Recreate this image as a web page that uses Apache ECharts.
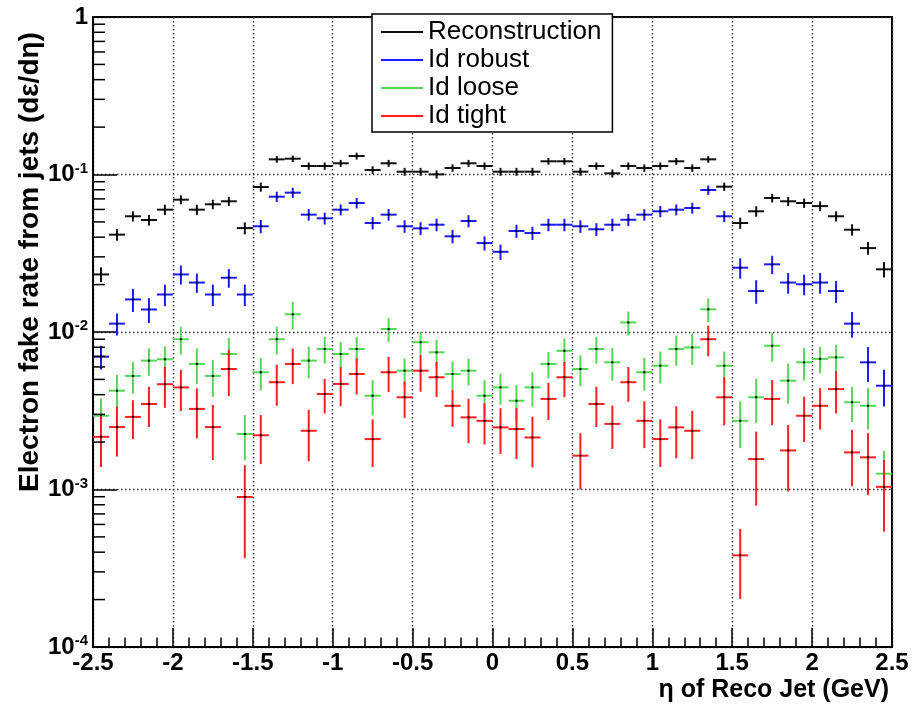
<!DOCTYPE html>
<html><head><meta charset="utf-8">
<script src="https://cdn.jsdelivr.net/npm/echarts@6/dist/echarts.min.js"></script>
<style>html,body{margin:0;padding:0;background:#fff}#c{width:922px;height:715px}</style>
</head><body><div id="c"></div>
<script>
// ---- data ----
const etaCenters = [-2.45,-2.35,-2.25,-2.15,-2.05,-1.95,-1.85,-1.75,-1.65,-1.55,
  -1.45,-1.35,-1.25,-1.15,-1.05,-0.95,-0.85,-0.75,-0.65,-0.55,
  -0.45,-0.35,-0.25,-0.15,-0.05,0.05,0.15,0.25,0.35,0.45,
  0.55,0.65,0.75,0.85,0.95,1.05,1.15,1.25,1.35,1.45,
  1.55,1.65,1.75,1.85,1.95,2.05,2.15,2.25,2.35,2.45];
const binWidth = 0.1;
const seriesNames = ['Reconstruction','Id robust','Id loose','Id tight'];

const reco = [0.0232,0.0415,0.0543,0.0514,0.0598,0.0692,0.0598,0.0647,0.0676,0.0457,
  0.0833,0.1248,0.126,0.1132,0.1132,0.1178,0.131,0.1068,0.1178,0.1042,
  0.1042,0.1002,0.110,0.1178,0.1132,0.1042,0.1042,0.1042,0.1213,0.1213,
  0.1042,0.1132,0.1017,0.1132,0.110,0.1132,0.1213,0.110,0.1248,0.0837,
  0.0492,0.0584,0.0709,0.0676,0.0659,0.0630,0.0543,0.0446,0.0341,0.025];
const recoErr = [0.0025,0.0035,0.004,0.004,0.0045,0.0045,0.0045,0.0045,0.0045,0.004,
  0.0055,0.006,0.006,0.006,0.006,0.006,0.0065,0.006,0.006,0.006,
  0.006,0.006,0.006,0.006,0.006,0.006,0.006,0.006,0.006,0.006,
  0.006,0.006,0.006,0.006,0.006,0.006,0.006,0.006,0.006,0.005,
  0.004,0.0045,0.0045,0.0045,0.0045,0.0045,0.004,0.0037,0.0032,0.0028];

const robust = [0.00697,0.0113,0.0161,0.0139,0.0173,0.0232,0.0206,0.0173,0.0221,0.0173,
  0.0469,0.0723,0.0767,0.0556,0.0527,0.0598,0.0659,0.0492,0.0556,0.0469,
  0.0455,0.048,0.0405,0.0507,0.0367,0.0323,0.0438,0.0425,0.048,0.048,
  0.0469,0.0449,0.048,0.0516,0.0556,0.0584,0.0598,0.0613,0.0797,0.0543,
  0.0256,0.0182,0.0269,0.0206,0.0201,0.0206,0.0182,0.0113,0.00642,0.00456];
const robustErr = [0.0012,0.0018,0.0027,0.0025,0.0027,0.0032,0.0029,0.0027,0.003,0.0027,
  0.0045,0.0055,0.0057,0.0047,0.0046,0.0048,0.005,0.0044,0.0047,0.0043,
  0.0043,0.0044,0.004,0.0045,0.0038,0.0036,0.0042,0.0041,0.0044,0.0044,
  0.0043,0.0042,0.0044,0.0046,0.0047,0.0048,0.0048,0.0049,0.0055,0.0045,
  0.0038,0.0031,0.0036,0.0031,0.003,0.0031,0.0029,0.0021,0.0016,0.0012];

const loose = [0.00294,0.00424,0.00526,0.00658,0.00671,0.0090,0.00627,0.00526,0.00725,0.00225,
  0.00555,0.0090,0.01295,0.00658,0.0078,0.00725,0.0078,0.00394,0.01045,0.00568,
  0.00861,0.00743,0.00541,0.00568,0.00394,0.00445,0.00366,0.00445,0.00627,0.0076,
  0.00582,0.0078,0.00642,0.0115,0.00555,0.00611,0.0078,0.00798,0.01393,0.00611,
  0.00273,0.00385,0.00818,0.00491,0.00642,0.00675,0.0069,0.00358,0.0034,0.00126];
const looseErr = [0.00085,0.0011,0.0012,0.0013,0.0014,0.0018,0.0016,0.0014,0.0019,0.00072,
  0.0013,0.0018,0.0026,0.0015,0.0015,0.0014,0.0015,0.001,0.0018,0.0011,
  0.0014,0.0015,0.0011,0.0011,0.001,0.001,0.00095,0.0011,0.0012,0.0015,
  0.0013,0.0015,0.0015,0.002,0.0013,0.0014,0.0017,0.0018,0.0024,0.0014,
  0.0009,0.0012,0.0017,0.0014,0.0015,0.0013,0.0014,0.0009,0.001,0.0005];

const tight = [0.00216,0.00249,0.00289,0.00349,0.00466,0.00445,0.00325,0.00249,0.00582,0.000896,
  0.00221,0.0048,0.00627,0.00236,0.00404,0.00468,0.00541,0.00209,0.00555,0.00385,
  0.00568,0.00516,0.0034,0.00287,0.00273,0.00248,0.00242,0.00214,0.00376,0.00516,
  0.00164,0.00349,0.00261,0.0048,0.00273,0.00209,0.00248,0.00236,0.009,0.00385,
  0.000382,0.00156,0.00376,0.00177,0.00294,0.0034,0.00434,0.00172,0.0016,0.00104];
const tightErr = [0.00077,0.00087,0.0008,0.001,0.00136,0.0013,0.00114,0.00095,0.0019,0.00053,
  0.00076,0.0014,0.0016,0.00085,0.001,0.0013,0.0014,0.0007,0.0014,0.001,
  0.0015,0.0013,0.0009,0.0009,0.0008,0.0008,0.00086,0.00076,0.001,0.0013,
  0.00064,0.001,0.0008,0.0012,0.0009,0.0007,0.0009,0.0008,0.002,0.0013,
  0.00018,0.00077,0.0012,0.0008,0.00094,0.001,0.0013,0.00067,0.00068,0.0005];

const yMinorTicks = [2e-4,3e-4,4e-4,5e-4,6e-4,7e-4,8e-4,9e-4,
  2e-3,3e-3,4e-3,5e-3,6e-3,7e-3,8e-3,9e-3,
  2e-2,3e-2,4e-2,5e-2,6e-2,7e-2,8e-2,9e-2,
  0.2,0.3,0.4,0.5,0.6,0.7,0.8,0.9];

const colors = ['#111111','#1a1aff','#55d655','#ff1f1f'];
const FONT = '"Liberation Sans", Arial, Helvetica, sans-serif';

// ---- chart ----
const chart = echarts.init(document.getElementById('c'), null, {renderer:'canvas'});

function errRender(color) {
  return function (params, api) {
    const x = api.value(0), y = api.value(1), e = api.value(2);
    const l = api.coord([x - binWidth / 2, y]);
    const r = api.coord([x + binWidth / 2, y]);
    const t = api.coord([x, y + e]);
    const b = api.coord([x, Math.max(y - e, 1e-6)]);
    const c = api.coord([x, y]);
    const st = {stroke: color, lineWidth: 2};
    return {type: 'group', children: [
      {type: 'line', shape: {x1: l[0], y1: l[1], x2: r[0], y2: r[1]}, style: st},
      {type: 'line', shape: {x1: t[0], y1: t[1], x2: b[0], y2: b[1]}, style: st},
      {type: 'rect', shape: {x: c[0] - 1, y: c[1] - 1, width: 2, height: 2}, style: {fill: '#000'}}
    ]};
  };
}

const dataSets = [[reco, recoErr], [robust, robustErr], [loose, looseErr], [tight, tightErr]];
const series = dataSets.map(function (d, k) {
  return {
    name: seriesNames[k], type: 'custom', renderItem: errRender(colors[k]),
    itemStyle: {color: colors[k]}, encode: {x: 0, y: 1}, clip: true,
    data: etaCenters.map(function (x, i) { return [x, d[0][i], d[1][i]]; }),
    z: 3 + k
  };
});
series.push({
  name: 'yminor', type: 'custom', silent: true, encode: {x: 0, y: 1}, z: 10,
  data: yMinorTicks.map(function (v) { return [-2.5, v]; }),
  renderItem: function (p, api) {
    const c = api.coord([api.value(0), api.value(1)]);
    return {type: 'line', shape: {x1: c[0], y1: c[1], x2: c[0] + 12, y2: c[1]},
      style: {stroke: '#000', lineWidth: 1.5}};
  }
});

const dotted = {color: '#333', width: 1.4, type: [1.5, 2.5]};

chart.setOption({
  animation: false,
  backgroundColor: '#fff',
  textStyle: {fontFamily: FONT},
  grid: {left: 93, right: 30, top: 17, bottom: 68, show: true, borderColor: '#000', borderWidth: 2, backgroundColor: '#fff'},
  legend: {
    data: seriesNames.map(function (n) { return {name: n, icon: 'rect'}; }),
    orient: 'vertical', left: 372, top: 14,
    itemWidth: 42, itemHeight: 2, itemGap: 2, itemTextGap: 10,
    padding: [5, 11, 3, 9],
    backgroundColor: '#fff', borderColor: '#000', borderWidth: 1.5, borderRadius: 0,
    textStyle: {fontFamily: FONT, fontSize: 26, color: '#000', lineHeight: 25},
    selectedMode: false
  },
  xAxis: {
    type: 'value', min: -2.5, max: 2.5, interval: 0.5,
    axisLine: {show: true, onZero: false, lineStyle: {color: '#000', width: 2}},
    axisTick: {show: true, inside: true, length: 19, lineStyle: {color: '#000', width: 1.5}},
    minorTick: {show: true, splitNumber: 5, length: 9.5, lineStyle: {color: '#000', width: 1.5}},
    splitLine: {show: true, lineStyle: dotted},
    axisLabel: {color: '#000', fontSize: 24, fontWeight: 'bold', margin: 4, fontFamily: FONT,
      showMinLabel: true, showMaxLabel: true}
  },
  yAxis: {
    type: 'log', logBase: 10, min: 1e-4, max: 1,
    axisLine: {show: true, onZero: false, lineStyle: {color: '#000', width: 2}},
    axisTick: {show: true, inside: true, length: 24, lineStyle: {color: '#000', width: 1.5}},
    splitLine: {show: true, lineStyle: dotted},
    axisLabel: {
      margin: 5, color: '#000', fontFamily: FONT,
      formatter: function (v) {
        const ex = Math.round(Math.log10(v));
        if (ex === 0) return '{b|1}';
        return '{b|10}{s|' + ex + '}';
      },
      rich: {
        b: {fontSize: 24, fontWeight: 'bold', color: '#000', fontFamily: FONT},
        s: {fontSize: 15, fontWeight: 'bold', color: '#000', fontFamily: FONT, padding: [0, 0, 12, 0]}
      }
    }
  },
  graphic: [
    {type: 'text', x: 30, y: 262, rotation: Math.PI / 2, z: 20,
      style: {text: 'Electron fake rate from jets (d\u03b5/d\u03b7)', font: 'bold 28px ' + FONT,
        fill: '#000', align: 'center', verticalAlign: 'middle'}},
    {type: 'text', x: 889, y: 690, z: 20,
      style: {text: '\u03b7 of Reco Jet (GeV)', font: 'bold 25px ' + FONT,
        fill: '#000', align: 'right', verticalAlign: 'middle'}}
  ],
  series: series
});
</script></body></html>
